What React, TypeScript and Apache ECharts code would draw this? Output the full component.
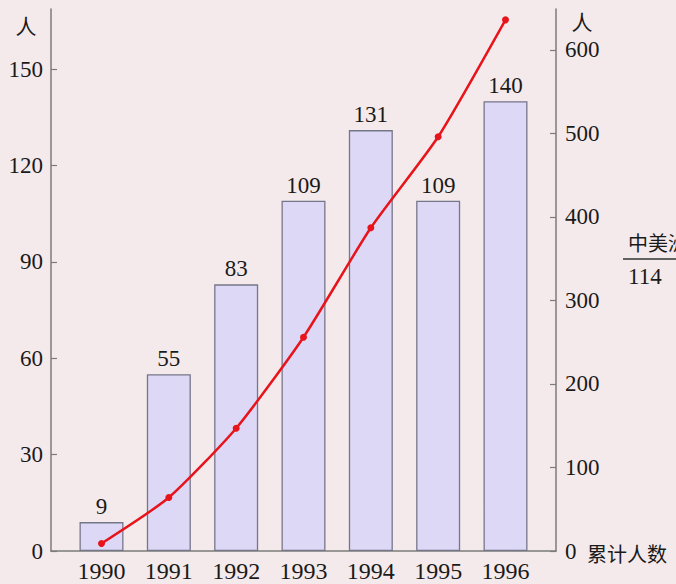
import React, { useEffect, useRef } from "react";
import * as echarts from "echarts";

const years = ["1990", "1991", "1992", "1993", "1994", "1995", "1996"];
const counts = [9, 55, 83, 109, 131, 109, 140];
const cumulative = [9, 64, 147, 256, 387, 496, 636];
const leftTicks = [0, 30, 60, 90, 120, 150];
const rightTicks = [0, 100, 200, 300, 400, 500, 600];

const SERIF = "Liberation Serif";
const CJK = "Noto Sans CJK SC";
const AXIS = "#7b7b7b";
const TEXT = "#1a1a1a";

export default function App() {
  const ref = useRef<HTMLDivElement>(null);
  useEffect(() => {
    if (!ref.current) return;
    const chart = echarts.init(ref.current, null, { renderer: "svg" });
    chart.setOption({
      animation: false,
      backgroundColor: "#f5eaeb",
      textStyle: { fontFamily: SERIF },
      grid: { left: 51, right: 120, top: 9, bottom: 33, containLabel: false },
      xAxis: {
        type: "value",
        min: -0.75,
        max: 6.75,
        axisLine: { show: true, onZero: false, lineStyle: { color: AXIS, width: 1.5 } },
        axisTick: { show: false },
        splitLine: { show: false },
        axisLabel: {
          customValues: years.map((_, i) => i),
          formatter: (v: number) => years[Math.round(v)] ?? "",
          fontFamily: SERIF,
          fontSize: 24,
          color: TEXT,
          margin: 8,
        },
      },
      yAxis: [
        {
          type: "value",
          min: 0,
          max: 168.7,
          position: "left",
          axisLine: { show: true, onZero: false, lineStyle: { color: AXIS, width: 1.5 } },
          axisTick: {
            show: true,
            inside: true,
            length: 6,
            customValues: leftTicks,
            lineStyle: { color: AXIS, width: 1.2 },
          },
          splitLine: { show: false },
          axisLabel: {
            customValues: leftTicks,
            fontFamily: SERIF,
            fontSize: 23,
            color: TEXT,
            margin: 8,
          },
        },
        {
          type: "value",
          min: 0,
          max: 649,
          position: "right",
          axisLine: { show: true, onZero: false, lineStyle: { color: AXIS, width: 1.5 } },
          axisTick: {
            show: true,
            inside: true,
            length: 6,
            customValues: rightTicks,
            lineStyle: { color: AXIS, width: 1.2 },
          },
          splitLine: { show: false },
          axisLabel: {
            customValues: rightTicks,
            fontFamily: SERIF,
            fontSize: 23,
            color: TEXT,
            margin: 9,
          },
        },
      ],
      series: [
        {
          type: "bar",
          yAxisIndex: 0,
          barWidth: 44,
          data: counts.map((c, i) => [i, c]),
          itemStyle: { color: "#ddd8f6", borderColor: "#76768a", borderWidth: 1.3 },
          label: {
            show: true,
            position: "top",
            distance: 4,
            fontFamily: SERIF,
            fontSize: 23,
            color: TEXT,
            formatter: (p: any) => String(p.value[1]),
          },
          z: 2,
        },
        {
          type: "line",
          yAxisIndex: 1,
          data: cumulative.map((c, i) => [i, c]),
          smooth: 0.2,
          symbol: "circle",
          symbolSize: 7,
          lineStyle: { color: "#e8141c", width: 2.5 },
          itemStyle: { color: "#e8141c" },
          z: 3,
        },
      ],
      graphic: [
        {
          type: "text",
          x: 26,
          y: 25,
          style: { text: "人", fontFamily: CJK, fontSize: 21, fill: TEXT, align: "center", verticalAlign: "middle" },
        },
        {
          type: "text",
          x: 582,
          y: 21,
          style: { text: "人", fontFamily: CJK, fontSize: 21, fill: TEXT, align: "center", verticalAlign: "middle" },
        },
        {
          type: "text",
          x: 587,
          y: 553,
          style: { text: "累计人数", fontFamily: CJK, fontSize: 20, fill: TEXT, align: "left", verticalAlign: "middle" },
        },
        {
          type: "text",
          x: 628,
          y: 242,
          style: { text: "中美洲", fontFamily: CJK, fontSize: 20, fill: TEXT, align: "left", verticalAlign: "middle" },
        },
        {
          type: "line",
          shape: { x1: 623, y1: 259, x2: 676, y2: 259 },
          style: { stroke: "#333", lineWidth: 1.3 },
        },
        {
          type: "text",
          x: 628,
          y: 276,
          style: { text: "114", fontFamily: SERIF, fontSize: 23, fill: TEXT, align: "left", verticalAlign: "middle" },
        },
      ],
    });
    return () => chart.dispose();
  }, []);
  return (
    <div
      ref={ref}
      style={{ position: "fixed", left: 0, top: 0, width: 676, height: 584 }}
    />
  );
}
